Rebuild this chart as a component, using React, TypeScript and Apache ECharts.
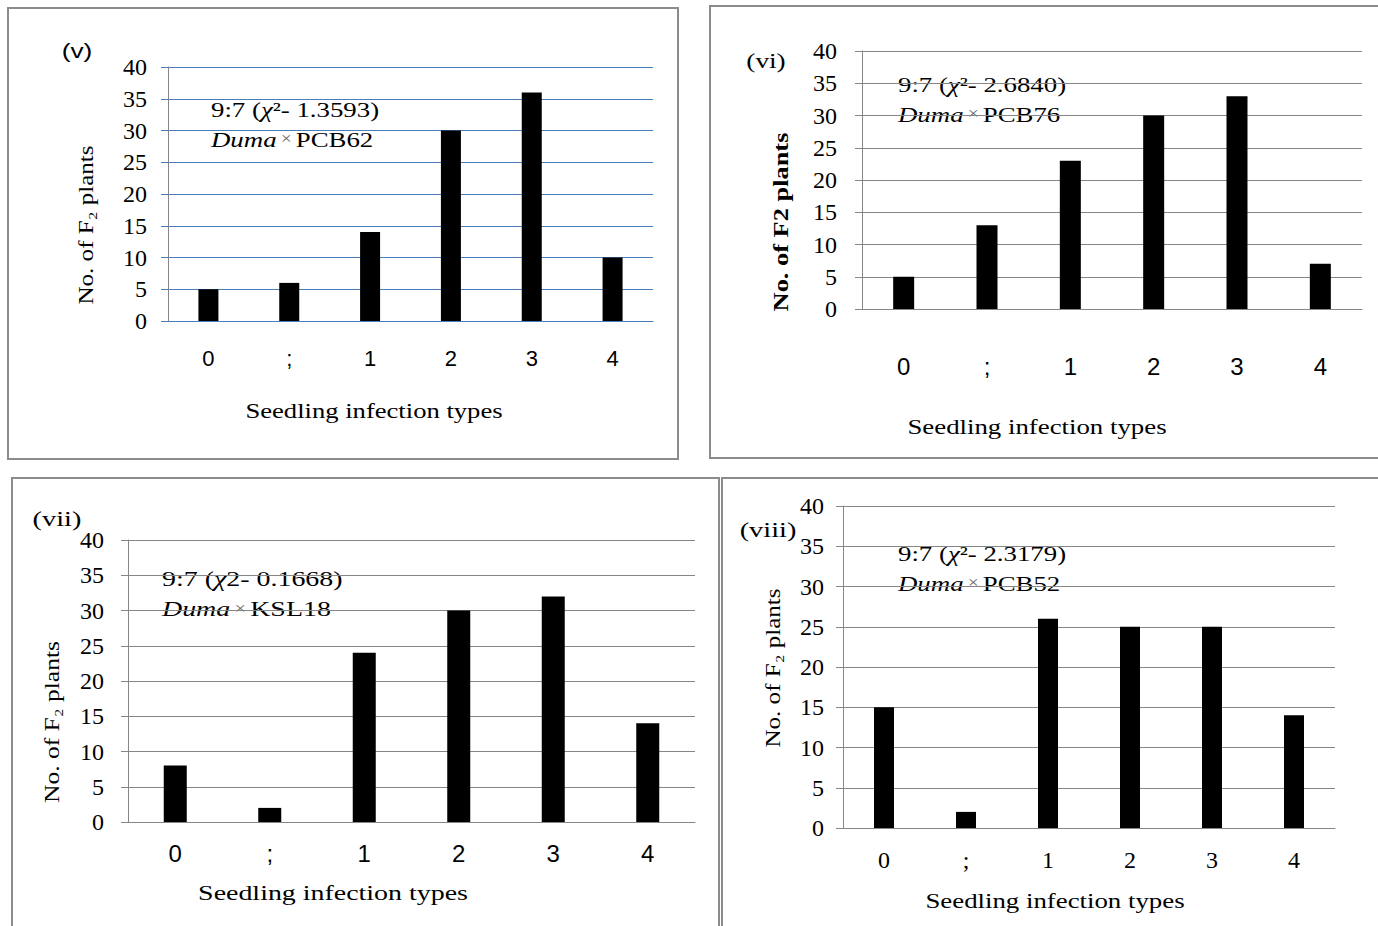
import React, { useEffect, useRef } from "react";
import * as echarts from "echarts";

const categories = ["0", ";", "1", "2", "3", "4"];
const valuesV = [5, 6, 14, 30, 36, 10];
const valuesVI = [5, 13, 23, 30, 33, 7];
const valuesVII = [8, 2, 24, 30, 32, 14];
const valuesVIII = [15, 2, 26, 25, 25, 14];
const yMin = 0;
const yMax = 40;
const yInterval = 5;

const panelLabels = ["(v)", "(vi)", "(vii)", "(viii)"];
const ratioTexts = ["1.3593", "2.6840", "0.1668", "2.3179"];
const crossTexts = ["PCB62", "PCB76", "KSL18", "PCB52"];
const xTitle = "Seedling infection types";

const SERIF = "'Liberation Serif', 'Times New Roman', serif";
const SANS = "'Liberation Sans', Arial, sans-serif";
const BLUE = "#4a7ebb";
const GRAY = "#868686";

type Panel = {
  values: number[];
  grid: { left: number; top: number; width: number; height: number };
  gridColor: string;
  catFont: string;
  catSize: number;
  catMargin: number;
  yMargin: number;
  barWidth: number;
  box: { x: number; y: number; w: number; h: number };
  yTitle: { x: number; y: number; bold: boolean; sub: boolean; sx: number };
  xTitlePos: { x: number; y: number; sx: number };
  label: { x: number; y: number; font: string; sx: number };
  note: { x: number; y: number; sup: boolean; sx: number };
};

const panels: Panel[] = [
  {
    values: valuesV,
    grid: { left: 168, top: 67, width: 485, height: 254 },
    gridColor: BLUE,
    catFont: SANS,
    catSize: 22,
    catMargin: 26,
    yMargin: 21,
    barWidth: 20,
    box: { x: 8, y: 8, w: 670, h: 451 },
    yTitle: { x: 86, y: 225, bold: false, sub: true, sx: 1.14 },
    xTitlePos: { x: 374, y: 410, sx: 1.21 },
    label: { x: 77, y: 50, font: SANS, sx: 1.25 },
    note: { x: 211, y: 124, sup: true, sx: 1.22 },
  },
  {
    values: valuesVI,
    grid: { left: 862, top: 51, width: 500, height: 258 },
    gridColor: GRAY,
    catFont: SANS,
    catSize: 24,
    catMargin: 45,
    yMargin: 25,
    barWidth: 21,
    box: { x: 710, y: 6, w: 672, h: 452 },
    yTitle: { x: 780, y: 222, bold: true, sub: false, sx: 1.2 },
    xTitlePos: { x: 1037, y: 426, sx: 1.22 },
    label: { x: 766, y: 61, font: SERIF, sx: 1.3 },
    note: { x: 898, y: 99, sup: true, sx: 1.22 },
  },
  {
    values: valuesVII,
    grid: { left: 128, top: 540, width: 567, height: 282 },
    gridColor: GRAY,
    catFont: SANS,
    catSize: 24,
    catMargin: 19,
    yMargin: 24,
    barWidth: 23,
    box: { x: 12, y: 478, w: 707, h: 460 },
    yTitle: { x: 52, y: 722, bold: false, sub: true, sx: 1.16 },
    xTitlePos: { x: 333, y: 893, sx: 1.27 },
    label: { x: 57, y: 519, font: SERIF, sx: 1.35 },
    note: { x: 162, y: 594, sup: false, sx: 1.27 },
  },
  {
    values: valuesVIII,
    grid: { left: 843, top: 506, width: 492, height: 322 },
    gridColor: GRAY,
    catFont: SERIF,
    catSize: 24,
    catMargin: 20,
    yMargin: 19,
    barWidth: 20,
    box: { x: 722, y: 478, w: 672, h: 460 },
    yTitle: { x: 773, y: 668, bold: false, sub: true, sx: 1.14 },
    xTitlePos: { x: 1055, y: 900, sx: 1.22 },
    label: { x: 768, y: 530, font: SERIF, sx: 1.35 },
    note: { x: 898, y: 568, sup: true, sx: 1.22 },
  },
];

export default function App() {
  const ref = useRef<HTMLDivElement>(null);

  useEffect(() => {
    if (!ref.current) return;
    const chart = echarts.init(ref.current, undefined, { renderer: "svg" });

    const grid = panels.map((p) => ({ ...p.grid, containLabel: false }));
    const xAxis = panels.map((p, i) => ({
      type: "category",
      gridIndex: i,
      data: categories,
      axisLine: { show: true, lineStyle: { color: p.gridColor, width: 1 } },
      axisTick: { show: false },
      axisLabel: {
        color: "#000",
        fontFamily: p.catFont,
        fontSize: p.catSize,
        margin: p.catMargin,
      },
    }));
    const yAxis = panels.map((p, i) => ({
      type: "value",
      gridIndex: i,
      min: yMin,
      max: yMax,
      interval: yInterval,
      axisLine: { show: true, lineStyle: { color: GRAY, width: 1 } },
      axisTick: { show: true, length: 7, lineStyle: { color: p.gridColor } },
      splitLine: { show: true, lineStyle: { color: p.gridColor, width: 1 } },
      axisLabel: {
        color: "#000",
        fontFamily: SERIF,
        fontSize: 24,
        margin: p.yMargin,
      },
    }));
    const series = panels.map((p, i) => ({
      type: "bar",
      xAxisIndex: i,
      yAxisIndex: i,
      data: p.values,
      barWidth: p.barWidth,
      itemStyle: { color: "#000" },
      silent: true,
    }));

    const graphic: any[] = [];
    panels.forEach((p, i) => {
      graphic.push({
        type: "rect",
        shape: { x: p.box.x, y: p.box.y, width: p.box.w, height: p.box.h },
        style: { fill: "none", stroke: "#8c8c8c", lineWidth: 2 },
        silent: true,
      });
      graphic.push({
        type: "text",
        x: p.label.x,
        y: p.label.y,
        scaleX: p.label.sx,
        style: {
          text: panelLabels[i],
          font: `21px ${p.label.font}`,
          fill: "#000",
          align: "center",
          verticalAlign: "middle",
        },
      });
      graphic.push({
        type: "text",
        x: p.yTitle.x,
        y: p.yTitle.y,
        rotation: Math.PI / 2,
        scaleX: p.yTitle.sx,
        style: {
          text: p.yTitle.sub ? "No. of F\u2082 plants" : "No. of F2 plants",
          font: `${p.yTitle.bold ? "bold " : ""}22px ${SERIF}`,
          fill: "#000",
          align: "center",
          verticalAlign: "middle",
        },
      });
      graphic.push({
        type: "text",
        x: p.xTitlePos.x,
        y: p.xTitlePos.y,
        scaleX: p.xTitlePos.sx,
        style: {
          text: xTitle,
          font: `22px ${SERIF}`,
          fill: "#000",
          align: "center",
          verticalAlign: "middle",
        },
      });
      graphic.push({
        type: "text",
        x: p.note.x,
        y: p.note.y,
        scaleX: p.note.sx,
        style: {
          text: `{n|9:7 (}{i|\u03c7}{n|${p.note.sup ? "\u00b2" : "2"}- ${ratioTexts[i]})}\n{i|Duma} {x|\u00d7} {n|${crossTexts[i]}}`,
          fill: "#000",
          align: "left",
          verticalAlign: "middle",
          lineHeight: 30,
          rich: {
            n: { fontFamily: SERIF, fontSize: 22, fill: "#000", lineHeight: 30 },
            i: { fontFamily: SERIF, fontSize: 22, fontStyle: "italic", fill: "#000", lineHeight: 30 },
            x: { fontFamily: SERIF, fontSize: 16, fill: "#666", lineHeight: 30 },
          },
        },
      });
    });

    chart.setOption({
      animation: false,
      backgroundColor: "#fff",
      grid,
      xAxis,
      yAxis,
      series,
      graphic,
    } as any);

    return () => chart.dispose();
  }, []);

  return (
    <div
      ref={ref}
      style={{ position: "absolute", left: 0, top: 0, width: 1378, height: 926 }}
    />
  );
}
